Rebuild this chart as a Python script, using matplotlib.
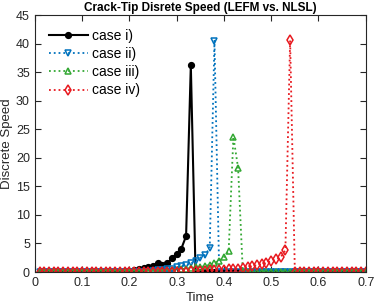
import numpy as np
import matplotlib
matplotlib.use('Agg')
import matplotlib.pyplot as plt

plt.rcParams['font.family'] = ['Liberation Sans', 'DejaVu Sans']

# time samples (s)
tempo = np.round(np.arange(1, 71) * 0.01, 2)

# case i)  LEFM
caso1 = [0.0] * 18 + [0.1, 0.2, 0.3, 0.5, 0.75, 0.9, 1.0, 1.6, 1.2, 1.5, 2.4,
                      3.2, 4.1, 6.3, 36.2] + [0.0] * 37
# case ii)
caso2 = [0.0] * 24 + [0.2, 0.3, 0.4, 0.5, 0.6, 0.8, 1.0, 1.2, 1.5, 2.0, 2.5,
                      3.0, 4.2, 40.5] + [0.0] * 32
# case iii)
caso3 = [0.0] * 27 + [0.2, 0.3, 0.4, 0.5, 0.6, 0.7, 0.8, 0.9, 1.0, 1.3, 1.6,
                      2.0, 2.6, 3.6, 23.7, 18.2] + [0.0] * 27
# case iv)  NLSL
caso4 = [0.0] * 32 + [0.1, 0.15, 0.2, 0.25, 0.3, 0.35, 0.4, 0.4, 0.45, 0.5,
                      0.6, 0.75, 0.9, 1.05, 1.2, 1.4, 1.6, 1.9, 2.2, 2.6,
                      3.8, 40.6] + [0.0] * 16

rotulos = ['case i)', 'case ii)', 'case iii)', 'case iv)']

fig = plt.figure(figsize=(3.74, 3.07), dpi=100)
ax = fig.add_axes([0.093, 0.114, 0.885, 0.837])

ax.plot(tempo, caso1, '-o', color='black', lw=1.5, ms=4.2, label=rotulos[0])
ax.plot(tempo, caso2, ':v', color='#0072BD', lw=1.3, ms=5, mfc='none', mew=1.1, label=rotulos[1])
ax.plot(tempo, caso3, ':^', color='#33a833', lw=1.3, ms=5, mfc='none', mew=1.1, label=rotulos[2])
ax.plot(tempo, caso4, ':d', color='#e8191f', lw=1.3, ms=5, mfc='none', mew=1.1, label=rotulos[3])

ax.set_xlim(0, 0.7)
ax.set_ylim(0, 45)
ax.set_xticks(np.arange(0, 0.71, 0.1))
ax.set_xticklabels(['0', '0.1', '0.2', '0.3', '0.4', '0.5', '0.6', '0.7'])
ax.set_yticks(range(0, 46, 5))
ax.tick_params(direction='in', top=True, right=True, labelsize=9, colors='#262626', length=4)
for s in ax.spines.values():
    s.set_color('#262626')
    s.set_linewidth(0.8)

ax.set_xlabel('Time', fontsize=9.5, color='#262626', labelpad=2)
ax.set_ylabel('Discrete Speed', fontsize=9.5, color='#262626', labelpad=2)
ax.set_title('Crack-Tip Disrete Speed (LEFM vs. NLSL)', fontsize=8.5, fontweight='bold', pad=3)

ax.legend(loc='upper left', frameon=False, fontsize=10, handlelength=2.8,
          handletextpad=0.3, labelspacing=0.3, borderaxespad=0.6)

plt.savefig('out.png', dpi=100)
